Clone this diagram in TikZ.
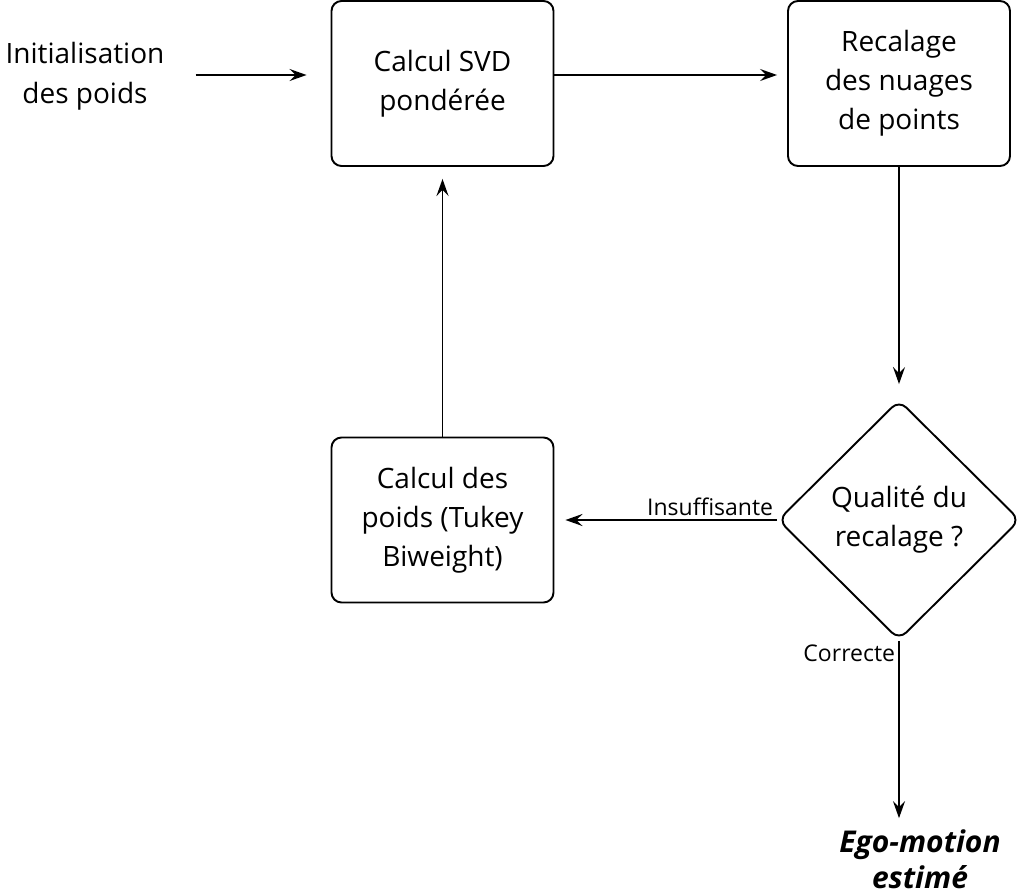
\documentclass[tikz,border=0pt]{standalone}
\usepackage{fontspec}
\setmainfont{Open Sans}
\usetikzlibrary{shapes.geometric, positioning, arrows.meta}
\tikzset{
        >={Stealth[length=17pt, width=12pt, inset=6pt]}, % arrow heads
        every path/.style={line width=1.9pt},
        bloc/.style={draw, rounded corners=10pt, minimum width=222pt, minimum height=165pt,
                align=center, font=\fontsize{28}{39}\selectfont},
        test/.style={draw, diamond, rounded corners=10pt, minimum width=242pt, minimum height=240pt,
                inner sep=0pt, align=center, font=\fontsize{28}{39}\selectfont},
        texte/.style={align=center, font=\fontsize{28}{40}\selectfont},
        etiq/.style={font=\fontsize{23}{25}\selectfont, inner sep=3pt}
        }
\begin{document}
\begin{tikzpicture}[x=1pt, y=-1pt]
        \useasboundingbox (0,0) rectangle (1020,894);
        \node[texte](init) at (85,76){Initialisation\\des poids};
        \node[bloc](svd) at (442.5,83.5){Calcul SVD\\pondérée};
        \node[bloc](recal) at (899,83.5){Recalage\\des nuages\\de points};
        \node[test](qual) at (899,520){Qualité du\\recalage ?};
        \node[bloc](tukey) at (442.5,520){Calcul des\\poids (Tukey\\Biweight)};
        \node[texte, font=\fontsize{30}{36}\selectfont\bfseries\itshape](ego) at (920,859){Ego-motion\\estimé};
        \draw[->] (init.east |- 0,75) -- (svd.west |- 0,75) [shorten >=24pt, shorten <=27pt];
        \draw[->] (svd.east |- 0,75) -- (recal.west |- 0,75) [shorten >=10pt];
        \draw[->] (recal.south -| qual.north) -- (qual.north) [shorten >=15pt];
        \draw[->] (qual.west) -- (tukey.east) [shorten >=11pt]
                node[etiq, pos=0, above left]{Insuffisante};
        \draw[->] (tukey.north) -- (svd.south) [shorten >=12pt];
        \draw[->] (qual.south) -- (qual.south |- ego.north) [shorten >=7pt]
                node[etiq, pos=0, below left]{Correcte};
\end{tikzpicture}
\end{document}
